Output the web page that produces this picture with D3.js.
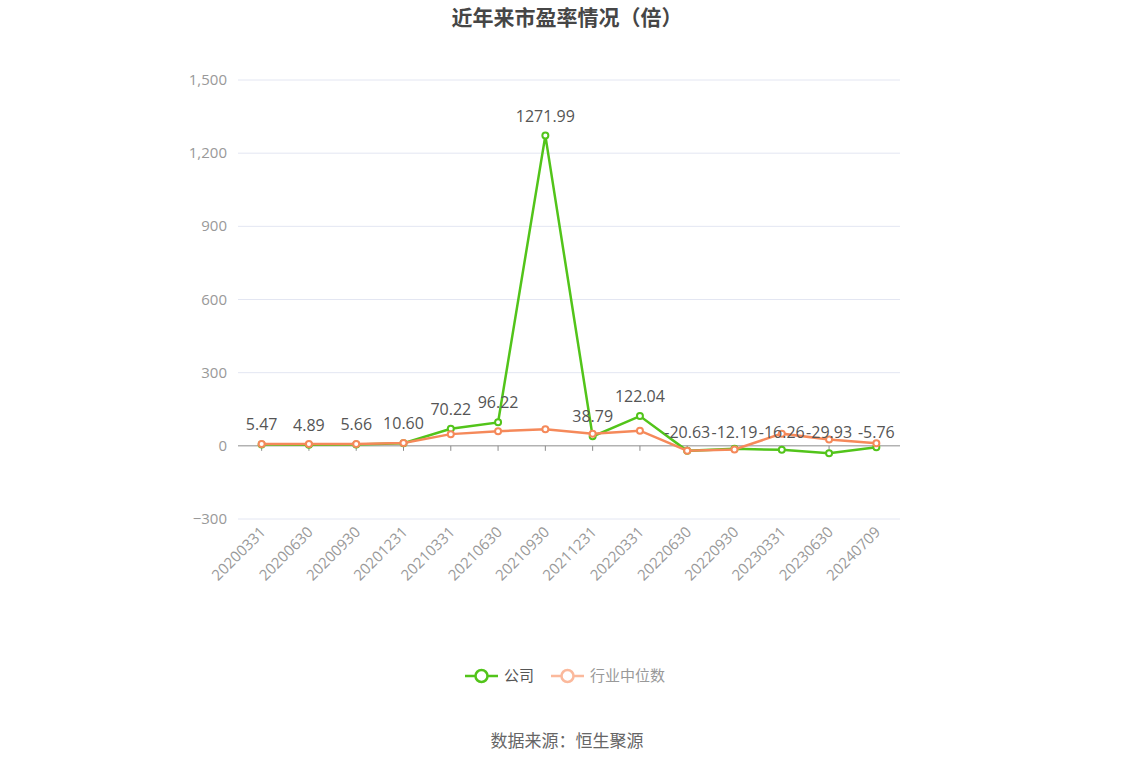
<!DOCTYPE html>
<html><head><meta charset="utf-8">
<script src="https://cdn.jsdelivr.net/npm/d3@7"></script>
<style>body{margin:0;background:#fff;font-family:"Open Sans","Noto Sans CJK SC",sans-serif;}</style>
</head><body><svg id="c" width="1134" height="766"></svg>
<script>
// chart data
let dates = ["20200331","20200630","20200930","20201231","20210331","20210630","20210930","20211231","20220331","20220630","20220930","20230331","20230630","20240709"];
let company = [5.47,4.89,5.66,10.60,70.22,96.22,1271.99,38.79,122.04,-20.63,-12.19,-16.26,-29.93,-5.76];
let industry = [8,8,8,12,48,60,68,50,62,-20,-15,50,26,11];
let yTicks = [-300,0,300,600,900,1200,1500];

let svg = d3.select("#c");
let x = d3.scaleBand().domain(dates).range([238,900]);
let y = d3.scaleLinear().domain([-300,1500]).range([519,80]);
let cx = d => x(d) + x.bandwidth()/2;

svg.append("text").attr("x",567).attr("y",25).attr("text-anchor","middle")
    .attr("font-size",21).attr("font-weight","bold").attr("fill","#464646")
    .attr("font-family","Noto Sans CJK SC").text("近年来市盈率情况（倍）");

// grid + y labels
yTicks.forEach(t=>{
    svg.append("line").attr("x1",238).attr("x2",900).attr("y1",y(t)).attr("y2",y(t))
        .attr("stroke", t===0 ? "#8c8c8c" : "#e3e6f2").attr("stroke-width",1);
    svg.append("text").attr("x",227).attr("y",y(t)+5).attr("text-anchor","end")
        .attr("font-size",15).attr("fill","#999").text(d3.format(",")(t));
});

// x ticks + labels (labels sit under the plot)
dates.forEach(d=>{
    svg.append("line").attr("x1",cx(d)).attr("x2",cx(d)).attr("y1",y(0)).attr("y2",y(0)+5).attr("stroke","#8c8c8c");
    svg.append("text").attr("transform",`translate(${cx(d)+5},${y(-300)+14}) rotate(-45)`)
        .attr("text-anchor","end").attr("font-size",15).attr("fill","#999").text(d);
});

let line = d3.line().x((v,i)=>cx(dates[i])).y(v=>y(v));
function series(vals,color){
    svg.append("path").datum(vals).attr("d",line).attr("fill","none").attr("stroke",color).attr("stroke-width",2.5);
    svg.selectAll(null).data(vals).enter().append("circle")
        .attr("cx",(v,i)=>cx(dates[i])).attr("cy",v=>y(v)).attr("r",3)
        .attr("fill","#fff").attr("stroke",color).attr("stroke-width",2);
}
series(company,"#52c41a");
series(industry,"#f5895a");

// value labels
svg.selectAll(null).data(company).enter().append("text")
    .attr("x",(v,i)=>cx(dates[i])).attr("y",v=>y(Math.max(v,0)) - (v<0?8:14))
    .attr("text-anchor","middle").attr("font-size",16).attr("fill","#555")
    .text(v=>v.toFixed(2));

// legend
let lg = svg.append("g").attr("font-family","Noto Sans CJK SC").attr("font-size",15);
[["公司","#52c41a","#555",465],["行业中位数","#fbb99c","#999",551]].forEach(([n,c,tc,lx])=>{
    lg.append("line").attr("x1",lx).attr("x2",lx+33).attr("y1",676).attr("y2",676).attr("stroke",c).attr("stroke-width",2.5);
    lg.append("circle").attr("cx",lx+16.5).attr("cy",676).attr("r",6).attr("fill","#fff").attr("stroke",c).attr("stroke-width",2.5);
    lg.append("text").attr("x",lx+39).attr("y",681).attr("fill",tc).text(n);
});

svg.append("text").attr("x",567).attr("y",747).attr("text-anchor","middle")
    .attr("font-size",17).attr("fill","#666").attr("font-family","Noto Sans CJK SC").text("数据来源：恒生聚源");
</script></body></html>
